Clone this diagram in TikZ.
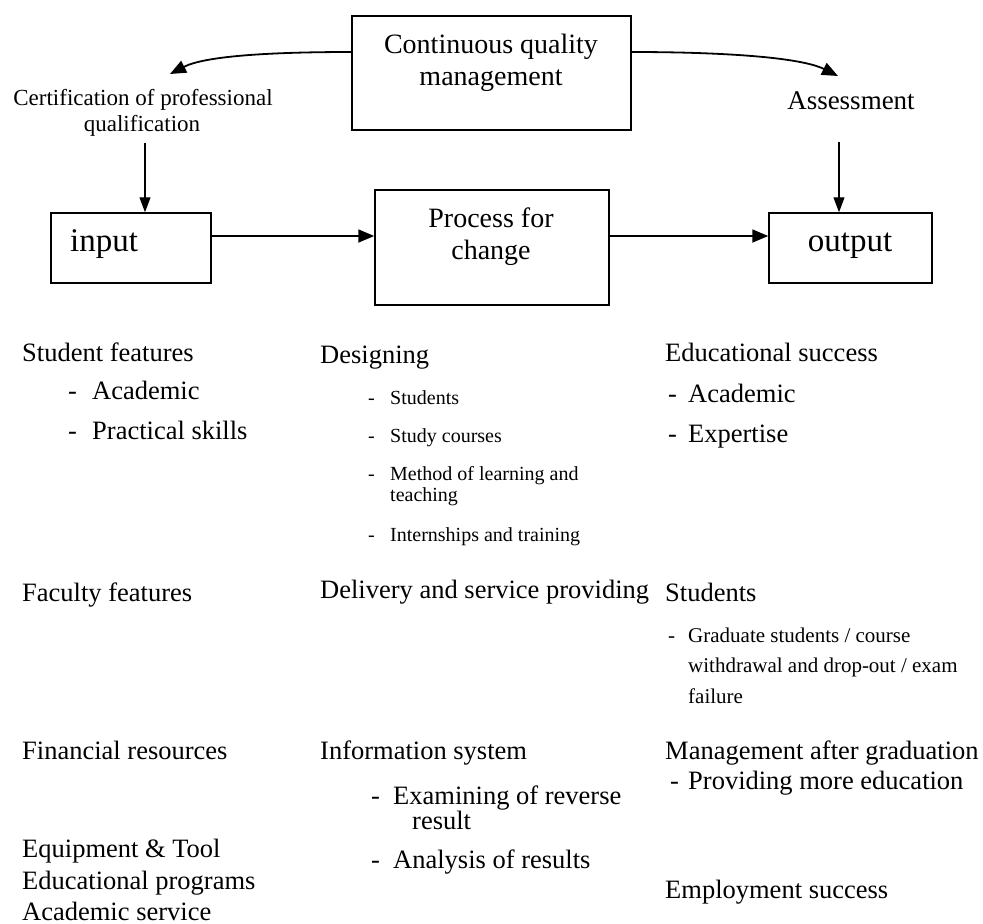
\documentclass[tikz,border=0pt]{standalone}
\usepackage{fontspec}
\setmainfont{Liberation Serif}
\usetikzlibrary{arrows.meta}
\begin{document}
\begin{tikzpicture}[x=1pt,y=-1pt,
  box/.style={draw,line width=1.5pt,inner sep=0pt},
  arr/.style={line width=1.8pt,-{Triangle[length=16pt,width=13pt]}},
  thinarr/.style={line width=1.2pt,-{Triangle[length=15pt,width=11pt]}},
  big/.style={inner sep=0pt,font=\fontsize{33}{36}\selectfont},
  head/.style={inner sep=0pt,font=\fontsize{28}{32}\selectfont,text height=19pt,text depth=6pt},
  txt/.style={anchor=west,inner sep=0pt,font=\fontsize{26.5}{30}\selectfont,text height=18pt,text depth=6pt},
  sml/.style={anchor=west,inner sep=0pt,font=\fontsize{20}{24}\selectfont,text height=14pt,text depth=4.5pt},
  mid/.style={anchor=west,inner sep=0pt,font=\fontsize{21}{24}\selectfont,text height=14.5pt,text depth=4.5pt},
  lab/.style={inner sep=0pt,font=\fontsize{23}{26}\selectfont,text height=16pt,text depth=5pt}]
\useasboundingbox (0,0) rectangle (983,924);

% --- boxes of the flow ---
\node[box,minimum width=279pt,minimum height=114pt] (cqm) at (491.5,73) {};
\node[head] (cqmt1) at (491,47) {Continuous quality};
\node[head] (cqmt2) at (491,79) {management};

\node[box,minimum width=160pt,minimum height=70pt] (input) at (131,248) {};
\node[big,anchor=west,text height=23pt,text depth=7pt] (inputt) at (70,243) {input};

\node[box,minimum width=234pt,minimum height=115pt] (proc) at (492,247.5) {};
\node[head] (proct1) at (491,221) {Process for};
\node[head] (proct2) at (491,253) {change};

\node[box,minimum width=163pt,minimum height=70pt] (output) at (850.5,248) {};
\node[big,text height=23pt,text depth=7pt] (outputt) at (850,243) {output};

% --- labels over the inputs and outputs ---
\node[lab] (cert1) at (143,100) {Certification of professional};
\node[lab] (cert2) at (142,126) {qualification};
\node[lab,font=\fontsize{27}{30}\selectfont,text height=18pt,text depth=6pt] (assess) at (851,103) {Assessment};

% --- connectors ---
\coordinate (ltip) at (170,74);
\coordinate (rtip) at (838,76);
\draw[arr] (cqm.west |- 0,52) .. controls (270,52) and (205,56) .. (ltip);
\draw[arr] (cqm.east |- 0,52) .. controls (720,52) and (800,57) .. (rtip);

\coordinate (cstart) at (145,143);
\coordinate (astart) at (839,142);
\draw[thinarr] (cstart) -- (cstart |- input.north);
\draw[thinarr] (astart) -- (astart |- output.north);

\coordinate (flowy) at (0,236);
\draw[arr] (input.east |- flowy) -- (proc.west |- flowy);
\draw[arr] (proc.east |- flowy) -- (output.west |- flowy);

% --- inputs column ---
\node[txt] (sf) at (22,355) {Student features};
\node[txt] (sfd1) at (68,393) {-};
\node[txt] (sfa) at (92,393) {Academic};
\node[txt] (sfd2) at (68,433) {-};
\node[txt] (sfp) at (92,433) {Practical skills};
\node[txt] (ff) at (22,595) {Faculty features};
\node[txt] (fr) at (22,753) {Financial resources};
\node[txt] (et) at (22,851) {Equipment \& Tool};
\node[txt] (ep) at (22,883) {Educational programs};
\node[txt] (as) at (22,914) {Academic service};

% --- process column ---
\node[txt] (des) at (320,357) {Designing};
\node[sml] (dd1) at (368,400) {-};
\node[sml] (ds1) at (390,400) {Students};
\node[sml] (dd2) at (368,438) {-};
\node[sml] (ds2) at (390,438) {Study courses};
\node[sml] (dd3) at (368,476) {-};
\node[sml] (ds3) at (390,476) {Method of learning and};
\node[sml] (ds3b) at (390,497) {teaching};
\node[sml] (dd4) at (368,537) {-};
\node[sml] (ds4) at (390,537) {Internships and training};
\node[txt] (del) at (320,592) {Delivery and service providing};
\node[txt] (inf) at (320,753) {Information system};
\node[txt] (id1) at (371,798) {-};
\node[txt] (ie1) at (393,798) {Examining of reverse};
\node[txt] (ie1b) at (412,823) {result};
\node[txt] (id2) at (371,862) {-};
\node[txt] (ie2) at (393,862) {Analysis of results};

% --- outputs column ---
\node[txt] (es) at (665,355) {Educational success};
\node[txt] (esd1) at (668,396) {-};
\node[txt] (esa) at (688,396) {Academic};
\node[txt] (esd2) at (668,436) {-};
\node[txt] (ese) at (688,436) {Expertise};
\node[txt] (st) at (665,595) {Students};
\node[mid] (std) at (668,637) {-};
\node[mid] (st1) at (688,637) {Graduate students / course};
\node[mid] (st2) at (688,667) {withdrawal and drop-out / exam};
\node[mid] (st3) at (688,698) {failure};
\node[txt] (mg) at (665,753) {Management after graduation};
\node[txt] (mgd) at (670,783) {-};
\node[txt] (mgp) at (688,783) {Providing more education};
\node[txt] (em) at (665,892) {Employment success};
\end{tikzpicture}
\end{document}
